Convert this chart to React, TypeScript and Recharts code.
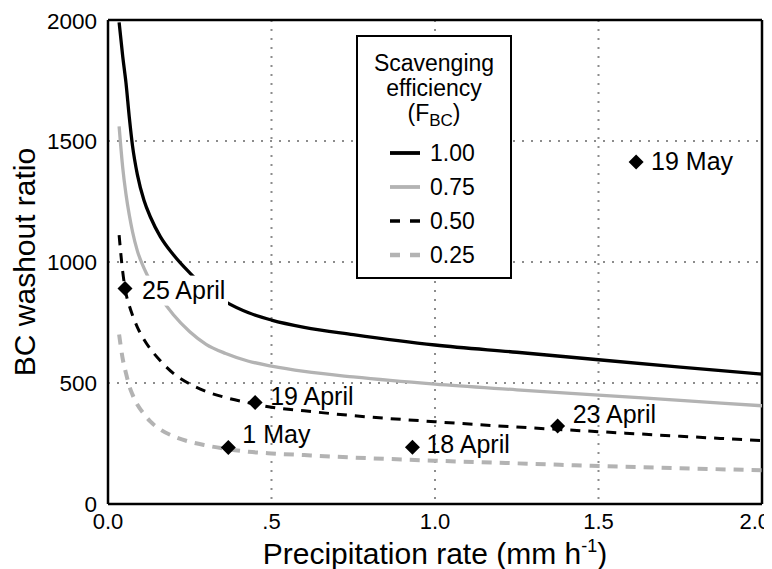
import React from 'react';
import {
  ComposedChart,
  Line,
  Scatter,
  XAxis,
  YAxis,
  CartesianGrid,
  ReferenceLine,
  Label,
} from 'recharts';

// precipitation rate (mm h-1) where the curves were read
const rates = [
  0.034, 0.045, 0.055, 0.065, 0.075, 0.09, 0.11, 0.13, 0.16, 0.2, 0.25,
  0.3, 0.36, 0.43, 0.5, 0.6, 0.75, 1.0, 1.25, 1.5, 1.75, 2.0,
];

// washout ratio for each scavenging efficiency
const f100 = [1990, 1850, 1740, 1600, 1480, 1360, 1255, 1185, 1105, 1030, 955, 890, 835, 790, 760, 730, 700, 657, 627, 596, 566, 537];
const f075 = [1560, 1390, 1280, 1195, 1125, 1045, 975, 920, 855, 782, 712, 660, 622, 590, 570, 548, 525, 495, 472, 450, 428, 406];
const f050 = [1111, 960, 870, 820, 780, 730, 680, 640, 592, 540, 496, 465, 440, 418, 400, 385, 365, 340, 318, 299, 280, 262];
const f025 = [700, 600, 540, 488, 452, 410, 372, 340, 308, 280, 257, 242, 228, 216, 209, 202, 192, 179, 168, 157, 148, 139];

// observed events
const eventNames = ['25 April', '19 April', '1 May', '18 April', '23 April', '19 May'];
const eventRates = [0.052, 0.45, 0.368, 0.931, 1.375, 1.615];
const eventRatios = [890, 419, 233, 234, 322, 1413];

const xTicks = [0, 0.5, 1.0, 1.5, 2.0];
const xTickLabels = ['0.0', '.5', '1.0', '1.5', '2.0'];
const yTicks = [0, 500, 1000, 1500, 2000];

const series = [
  { key: 'f100', name: '1.00', color: '#000000', width: 3.3, dash: undefined, legendDash: undefined },
  { key: 'f075', name: '0.75', color: '#b3b3b3', width: 3.3, dash: undefined, legendDash: undefined },
  { key: 'f050', name: '0.50', color: '#000000', width: 3, dash: '10 8', legendDash: '10 10' },
  { key: 'f025', name: '0.25', color: '#b3b3b3', width: 4, dash: '10 8', legendDash: '10 10' },
];

// label placement next to each diamond
const labelOffsets = [
  { dx: 17, dy: 10, bg: true },
  { dx: 15, dy: 2, bg: false },
  { dx: 14, dy: -5, bg: false },
  { dx: 14, dy: 6, bg: false },
  { dx: 15, dy: -3, bg: false },
  { dx: 15, dy: 8, bg: false },
];

const curveData = rates.map((p, i) => ({
  p,
  f100: f100[i],
  f075: f075[i],
  f050: f050[i],
  f025: f025[i],
}));

const events = eventNames.map((name, i) => ({
  p: eventRates[i],
  w: eventRatios[i],
  name,
  idx: i,
}));

const FONT = 'Liberation Sans, Arial, sans-serif';

const EventMark = (props: any) => {
  const { cx, cy, payload } = props;
  const off = labelOffsets[payload.idx];
  const r = 7.5;
  const tx = cx + off.dx;
  const ty = cy + off.dy;
  return (
    <g>
      {off.bg && <rect x={tx - 4} y={ty - 23} width={90} height={30} fill="#fff" />}
      <polygon
        points={`${cx},${cy - r} ${cx + r},${cy} ${cx},${cy + r} ${cx - r},${cy}`}
        fill="#000"
      />
      <text x={tx} y={ty} fontSize={25} fontFamily={FONT} fill="#000">
        {payload.name}
      </text>
    </g>
  );
};

// last label is pulled in so it stays inside the frame
const XTick = (props: any) => {
  const { x, y, payload, index } = props;
  const last = index === xTicks.length - 1;
  return (
    <text
      x={last ? x + 8 : x}
      y={y + 17}
      textAnchor={last ? 'end' : 'middle'}
      fontSize={22}
      fontFamily={FONT}
      fill="#000"
    >
      {xTickLabels[xTicks.indexOf(payload.value)]}
    </text>
  );
};

const XTitle = (props: any) => {
  const { viewBox } = props;
  const x = viewBox.x + viewBox.width / 2;
  return (
    <text x={x} y={556} textAnchor="middle" fontSize={30} fontFamily={FONT} fill="#000">
      Precipitation rate (mm h
      <tspan fontSize={18} dy={-12}>-1</tspan>
      <tspan dy={12}>)</tspan>
    </text>
  );
};

const YTitle = (props: any) => {
  const { viewBox } = props;
  const y = viewBox.y + viewBox.height / 2;
  return (
    <text
      x={27}
      y={y}
      transform={`rotate(-90, 27, ${y})`}
      textAnchor="middle"
      fontSize={30}
      fontFamily={FONT}
      fill="#000"
    >
      BC washout ratio
    </text>
  );
};

function LegendBox() {
  return (
    <div
      style={{
        position: 'absolute',
        left: 348,
        top: 27,
        width: 152,
        height: 240,
        border: '2px solid #000',
        background: '#fff',
        fontFamily: FONT,
        fontSize: 23,
        color: '#000',
        boxSizing: 'content-box',
      }}
    >
      <div style={{ textAlign: 'center', lineHeight: '25px', marginTop: 14 }}>
        <div>Scavenging</div>
        <div>efficiency</div>
        <div>
          (F<sub style={{ fontSize: 17, verticalAlign: -5 }}>BC</sub>)
        </div>
      </div>
      <div style={{ marginTop: 3 }}>
        {series.map((s) => (
          <div key={s.key} style={{ display: 'flex', alignItems: 'center', height: 34 }}>
            <svg width={30} height={10} style={{ marginLeft: 32, marginRight: 10 }}>
              <line
                x1={0}
                y1={5}
                x2={30}
                y2={5}
                stroke={s.color}
                strokeWidth={s.width + 0.5}
                strokeDasharray={s.legendDash}
              />
            </svg>
            <span>{s.name}</span>
          </div>
        ))}
      </div>
    </div>
  );
}

export default function App() {
  return (
    <div style={{ position: 'relative', width: 764, height: 561 }}>
      <ComposedChart
        width={764}
        height={561}
        data={curveData}
        margin={{ top: 12, right: 10, bottom: 35, left: 40 }}
      >
        <CartesianGrid stroke="#8c8c8c" strokeWidth={2} strokeDasharray="2 7" />
        <XAxis
          type="number"
          dataKey="p"
          domain={[0, 2]}
          ticks={xTicks}
          tickLine={false}
          axisLine={{ stroke: '#000', strokeWidth: 2.5 }}
          tick={<XTick />}
          height={30}
          allowDataOverflow
        >
          <Label content={<XTitle />} />
        </XAxis>
        <YAxis
          type="number"
          domain={[0, 2000]}
          ticks={yTicks}
          tickLine={false}
          axisLine={{ stroke: '#000', strokeWidth: 2.5 }}
          tick={{ fill: '#000', fontSize: 22.5, fontFamily: FONT }}
          tickMargin={5}
          width={60}
          allowDataOverflow
        >
          <Label content={<YTitle />} />
        </YAxis>
        <ReferenceLine y={2000} stroke="#000" strokeWidth={2.5} />
        <ReferenceLine x={2} stroke="#000" strokeWidth={2.5} />
        {series.map((s) => (
          <Line
            key={s.key}
            type="monotone"
            dataKey={s.key}
            stroke={s.color}
            strokeWidth={s.width}
            strokeDasharray={s.dash}
            dot={false}
            activeDot={false}
            isAnimationActive={false}
          />
        ))}
        <Scatter
          data={events}
          dataKey="w"
          shape={<EventMark />}
          isAnimationActive={false}
        />
      </ComposedChart>
      <LegendBox />
    </div>
  );
}
